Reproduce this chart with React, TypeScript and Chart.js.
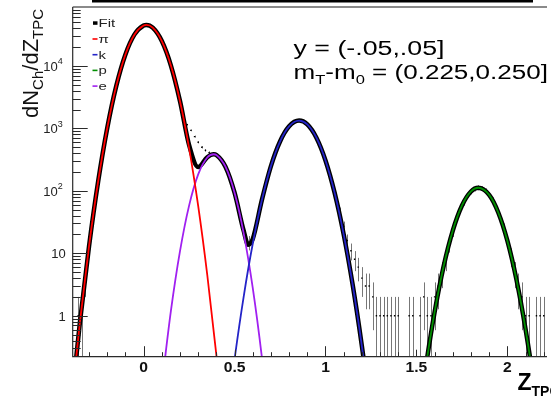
import React, { useEffect, useRef } from "react";
import { Chart, registerables } from "chart.js";

Chart.register(...registerables);

const FONT = "'Liberation Sans', Arial, Helvetica, sans-serif";

// ---------- axis ranges ----------
const X_MIN = -0.39;
const X_MAX = 2.218;
const Y_MIN = 0.2205;
const Y_MAX = 88100;

// ---------- fit components ----------
const piX = [-0.4, -0.35, -0.3, -0.25, -0.2, -0.15, -0.1, -0.05, 0.0, 0.015, 0.05, 0.1, 0.15, 0.2, 0.25, 0.3, 0.35, 0.4, 0.45];
const piY = [0.032, 0.8, 13.1, 141.6, 1016, 4842, 15310, 32070, 44570, 45400, 41040, 25060, 10160, 2726, 485, 57.3, 4.49, 0.233, 0.008];

const eX = [0.1, 0.15, 0.2, 0.25, 0.3, 0.35, 0.385, 0.4, 0.45, 0.5, 0.55, 0.6, 0.65, 0.7];
const eY = [0.077, 1.19, 10.8, 58.0, 183.4, 342, 386, 376, 244, 93.2, 21.0, 2.79, 0.219, 0.01];

const kX = [0.45, 0.5, 0.55, 0.6, 0.65, 0.7, 0.75, 0.8, 0.855, 0.9, 0.95, 1.0, 1.05, 1.1, 1.15, 1.2, 1.25];
const kY = [0.014, 0.2, 2.01, 14.2, 70.8, 249, 617, 1080, 1334, 1158, 710, 307, 93.6, 20.1, 3.05, 0.327, 0.025];

const pX = [1.5, 1.55, 1.6, 1.65, 1.7, 1.75, 1.8, 1.84, 1.9, 1.95, 2.0, 2.05, 2.1, 2.15, 2.2];
const pY = [0.012, 0.141, 1.14, 6.26, 23.1, 57.8, 97.7, 112.2, 86.2, 45.0, 15.9, 3.79, 0.611, 0.067, 0.005];

const fitX = [-0.4, -0.35, -0.3, -0.25, -0.2, -0.15, -0.1, -0.05, 0.0, 0.015, 0.05, 0.1, 0.15, 0.2, 0.25, 0.3, 0.35, 0.385, 0.4, 0.45, 0.5, 0.55, 0.575, 0.6, 0.65, 0.7, 0.75, 0.8, 0.855, 0.9, 0.95, 1.0, 1.05, 1.1, 1.15, 1.2, 1.25, 1.3, 1.35, 1.4, 1.45, 1.5, 1.55, 1.6, 1.65, 1.7, 1.75, 1.8, 1.84, 1.9, 1.95, 2.0, 2.05, 2.1, 2.15, 2.2];
const fitY = [0.032, 0.8, 13.1, 141.6, 1016, 4842, 15310, 32070, 44570, 45400, 41040, 25060, 10161, 2737, 543, 240.7, 346.5, 386, 376.2, 244, 93.4, 23.0, 13.76, 17.0, 71.0, 249, 617, 1080, 1334, 1158, 710, 307, 93.6, 20.1, 3.05, 0.327, 0.025, 0.0013, 0.0001, 0.0001, 0.0007, 0.012, 0.141, 1.14, 6.26, 23.1, 57.8, 97.7, 112.2, 86.2, 45.0, 15.9, 3.79, 0.611, 0.067, 0.005];

// ---------- histogram (bins of 0.02 starting at -0.38) ----------
const HIST_START = -0.38;
const HIST_BIN = 0.02;
const histY = [
  0, 1, 1, 4, 12, 36, 92, 215, 490, 1010,
  2000, 3650, 6300, 10200, 15300, 21600, 28600, 35400, 41000, 44600,
  45300, 43100, 38500, 32100, 25100, 18300, 12600, 8100, 4900, 2800,
  1650, 1150, 930, 740, 600, 500, 445, 410, 392, 378,
  338, 280, 212, 148, 95, 56, 31, 19, 15, 19,
  31, 56, 97, 160, 252, 375, 530, 712, 902, 1085,
  1228, 1318, 1335, 1280, 1160, 995, 808, 620, 452, 312,
  204, 128, 76, 47, 27, 16, 11, 8, 6, 4,
  3, 3, 2, 1, 1, 1, 1, 1, 1, 1,
  0, 0, 1, 1, 0, 1, 2, 1, 1, 2,
  3, 5, 8, 14, 23, 35, 50, 66, 83, 98,
  108, 112, 109, 100, 86, 70, 53, 38, 25, 16,
  9, 5, 3, 2, 1, 1, 0, 1, 1, 1,
];
const histX = histY.map((_, i) => +(HIST_START + HIST_BIN * i).toFixed(3));

// ---------- ticks / labels ----------
const xLabelTicks = [0, 0.5, 1, 1.5, 2];
const xLabelTexts = ["0", "0.5", "1", "1.5", "2"];
const yLabelTicks = [1, 10, 100, 1000, 10000];
const yLabelBases = ["1", "10", "10", "10", "10"];
const yLabelExps = ["", "", "2", "3", "4"];

const legendNames = ["Fit", "π", "k", "p", "e"];
const legendColors = ["#000000", "#ff0000", "#2424c8", "#008f00", "#a020f0"];

type Part = { t: string; size: number; dy?: number; bold?: boolean };

function drawParts(ctx: CanvasRenderingContext2D, parts: Part[], x: number, y: number, targetWidth?: number, scaleX?: number, align?: "left" | "center") {
  ctx.textAlign = "left";
  let natural = 0;
  for (const p of parts) {
    ctx.font = `${p.bold ? "bold " : ""}${p.size}px ${FONT}`;
    natural += ctx.measureText(p.t).width;
  }
  const s = targetWidth ? targetWidth / natural : scaleX || 1;
  ctx.save();
  ctx.translate(align === "center" ? x - (natural * s) / 2 : x, y);
  ctx.scale(s, 1);
  let cx = 0;
  for (const p of parts) {
    ctx.font = `${p.bold ? "bold " : ""}${p.size}px ${FONT}`;
    ctx.fillText(p.t, cx, p.dy || 0);
    cx += ctx.measureText(p.t).width;
  }
  ctx.restore();
}

const rootPlugin = {
  id: "rootDecor",
  beforeDatasetsDraw(chart: any) {
    const ctx: CanvasRenderingContext2D = chart.ctx;
    const { left, right, top, bottom } = chart.chartArea;
    const xs = chart.scales.x;
    const ys = chart.scales.y;
    ctx.save();
    ctx.beginPath();
    ctx.rect(left, top, right - left, bottom - top);
    ctx.clip();
    ctx.strokeStyle = "rgba(85,85,85,0.8)";
    ctx.lineWidth = 1;
    histX.forEach((x, i) => {
      const v = histY[i];
      if (v <= 0) return;
      const e = Math.sqrt(v);
      const px = Math.round(xs.getPixelForValue(x)) + 0.5;
      const y1 = ys.getPixelForValue(v + e);
      const y2 = v - e > 0 ? ys.getPixelForValue(v - e) : bottom + 2;
      ctx.beginPath();
      ctx.moveTo(px, y1);
      ctx.lineTo(px, y2);
      ctx.stroke();
    });
    ctx.restore();
  },
  afterDraw(chart: any) {
    const ctx: CanvasRenderingContext2D = chart.ctx;
    const { left, right, top, bottom } = chart.chartArea;
    const xs = chart.scales.x;
    const ys = chart.scales.y;
    ctx.save();

    // title box edge at the very top
    ctx.fillStyle = "#000";
    ctx.fillRect(92, 0, 441, 2.5);

    // frame top (grey)
    ctx.strokeStyle = "#8a8a8a";
    ctx.lineWidth = 2;
    ctx.beginPath();
    ctx.moveTo(left, top);
    ctx.lineTo(right, top);
    ctx.stroke();

    // axis lines
    ctx.strokeStyle = "#2a2a2a";
    ctx.lineWidth = 1.2;
    ctx.beginPath();
    ctx.moveTo(left, top);
    ctx.lineTo(left, bottom);
    ctx.lineTo(right, bottom);
    ctx.stroke();

    // y ticks (inward)
    ctx.lineWidth = 1;
    for (let ex = -1; ex <= 4; ex++) {
      for (let m = 1; m <= 9; m++) {
        const v = m * Math.pow(10, ex);
        if (v < Y_MIN || v > Y_MAX) continue;
        const py = Math.round(ys.getPixelForValue(v)) + 0.5;
        const len = m === 1 ? 15 : 8;
        ctx.beginPath();
        ctx.moveTo(left, py);
        ctx.lineTo(left + len, py);
        ctx.stroke();
      }
    }
    // x ticks (inward)
    for (let i = -3; i <= 22; i++) {
      const v = i / 10;
      if (v < X_MIN || v > X_MAX) continue;
      const px = Math.round(xs.getPixelForValue(v)) + 0.5;
      const len = i % 10 === 0 ? 10.5 : i % 5 === 0 ? 7 : 4.5;
      ctx.beginPath();
      ctx.moveTo(px, bottom);
      ctx.lineTo(px, bottom - len);
      ctx.stroke();
    }

    // x tick labels
    ctx.fillStyle = "#111";
    xLabelTicks.forEach((v, i) => {
      drawParts(ctx, [{ t: xLabelTexts[i], size: 14, bold: true }], xs.getPixelForValue(v), bottom + 15.3, undefined, 1.12, "center");
    });

    // y tick labels
    ctx.textAlign = "left";
    ctx.fillStyle = "#222";
    yLabelTicks.forEach((v, i) => {
      const py = ys.getPixelForValue(v);
      ctx.font = `13px ${FONT}`;
      const bw = ctx.measureText(yLabelBases[i]).width;
      if (yLabelExps[i]) {
        ctx.font = `9px ${FONT}`;
        const ew = ctx.measureText(yLabelExps[i]).width;
        const xr = left - 10;
        ctx.font = `13px ${FONT}`;
        ctx.fillText(yLabelBases[i], xr - ew - bw, py + 4.8);
        ctx.font = `9px ${FONT}`;
        ctx.fillText(yLabelExps[i], xr - ew, py - 1.5);
      } else {
        ctx.fillText(yLabelBases[i], left - 7 - bw, py + 4.8);
      }
    });

    // legend
    legendNames.forEach((name, i) => {
      const ly = 23.3 + i * 15.7;
      ctx.fillStyle = legendColors[i];
      if (i === 0) ctx.fillRect(93, ly - 2, 4.5, 3.5);
      else ctx.fillRect(92.5, ly - 0.8, 5, 1.6);
      ctx.fillStyle = "#222";
      drawParts(ctx, [{ t: name, size: 11.5 }], 98.5, ly + 4, undefined, 1.3);
    });

    // annotation
    ctx.fillStyle = "#000";
    drawParts(ctx, [{ t: "y = (-.05,.05]", size: 20.5 }], 293.5, 54.5, 151);
    drawParts(
      ctx,
      [
        { t: "m", size: 20.5 },
        { t: "T", size: 13, dy: 5 },
        { t: "-m", size: 20.5 },
        { t: "0", size: 13, dy: 5 },
        { t: " = (0.225,0.250]", size: 20.5 },
      ],
      293.5,
      79,
      254.5
    );

    // y axis title (rotated)
    ctx.save();
    ctx.translate(38, 118);
    ctx.rotate(-Math.PI / 2);
    ctx.fillStyle = "#111";
    drawParts(
      ctx,
      [
        { t: "dN", size: 22 },
        { t: "Ch", size: 15, dy: 5 },
        { t: "/dZ", size: 22 },
        { t: "TPC", size: 15, dy: 5 },
      ],
      0,
      0
    );
    ctx.restore();

    // x axis title
    ctx.fillStyle = "#000";
    drawParts(
      ctx,
      [
        { t: "Z", size: 23, bold: true },
        { t: "TPC", size: 14, dy: 6, bold: true },
      ],
      517.5,
      390
    );

    ctx.restore();
  },
};

function pts(xs: number[], ys: number[]) {
  return xs.map((x, i) => ({ x, y: ys[i] }));
}

export default function App() {
  const ref = useRef<HTMLCanvasElement | null>(null);
  useEffect(() => {
    if (!ref.current) return;
    const line = (label: string, xs: number[], ys: number[], color: string, width: number, order: number) => ({
      type: "line" as const,
      label,
      data: pts(xs, ys),
      borderColor: color,
      backgroundColor: color,
      borderWidth: width,
      pointRadius: 0,
      fill: false,
      cubicInterpolationMode: "monotone" as const,
      order,
    });
    const histPoints = histX.map((x, i) => ({ x, y: histY[i] })).filter((p) => p.y > 0);
    const chart = new Chart(ref.current, {
      type: "line",
      data: {
        datasets: [
          line(legendNames[1], piX, piY, legendColors[1], 1.8, 1),
          line(legendNames[2], kX, kY, legendColors[2], 1.8, 1),
          line(legendNames[3], pX, pY, legendColors[3], 1.8, 1),
          line(legendNames[4], eX, eY, legendColors[4], 1.8, 1),
          line(legendNames[0], fitX, fitY, legendColors[0], 4.5, 2),
          {
            type: "scatter" as const,
            label: "data",
            data: histPoints,
            showLine: false,
            pointRadius: 1,
            pointStyle: "rect",
            pointBackgroundColor: "#000",
            pointBorderColor: "#000",
            pointBorderWidth: 0,
            order: 3,
          } as any,
        ],
      },
      options: {
        responsive: false,
        animation: false,
        devicePixelRatio: 1,
        events: [],
        layout: { padding: { left: 72.7, top: 7, right: 0, bottom: 42.3 } },
        scales: {
          x: { type: "linear", min: X_MIN, max: X_MAX, display: false },
          y: { type: "logarithmic", min: Y_MIN, max: Y_MAX, display: false },
        },
        plugins: { legend: { display: false }, tooltip: { enabled: false } },
      },
      plugins: [rootPlugin],
    } as any);
    return () => chart.destroy();
  }, []);
  return (
    <div style={{ position: "absolute", left: 0, top: 0, width: 551, height: 399, background: "#fff" }}>
      <canvas ref={ref} width={551} height={399} style={{ display: "block" }} />
    </div>
  );
}
